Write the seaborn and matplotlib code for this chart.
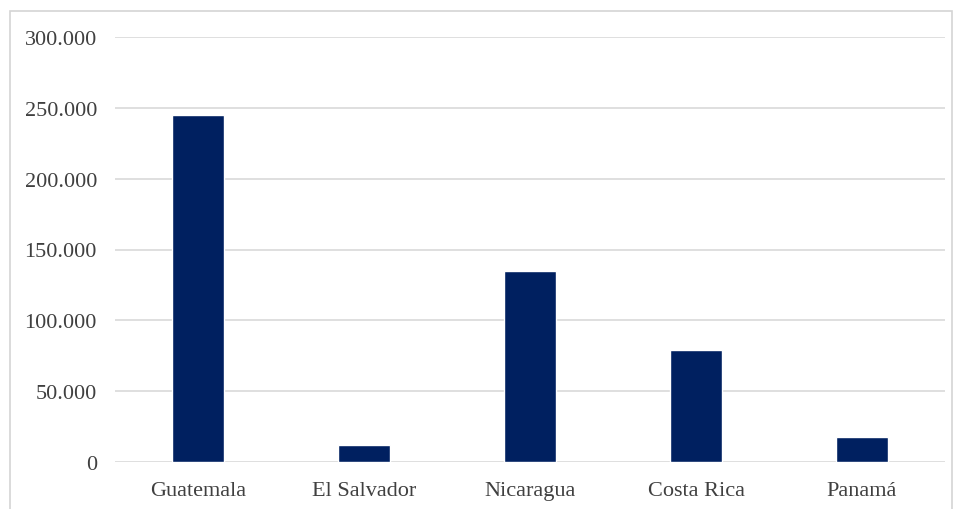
import matplotlib
matplotlib.use("Agg")
import matplotlib.pyplot as plt
import seaborn as sns
import pandas as pd
from matplotlib.ticker import FuncFormatter, MultipleLocator
from matplotlib.patches import Rectangle

countries = ["Guatemala", "El Salvador", "Nicaragua", "Costa Rica", "Panamá"]
values = [245000, 12000, 135000, 79000, 17500]

df = pd.DataFrame({"country": countries, "value": values})

sns.set_theme(style="white")
plt.rcParams["font.family"] = ["Liberation Serif", "DejaVu Serif"]

fig = plt.figure(figsize=(9.55, 5.1), dpi=100)
ax = fig.add_axes([115/955, 1-463/510, (945-115)/955, (463-38)/510])

sns.barplot(data=df, x="country", y="value", color="#002060", width=0.31,
            saturation=1, ax=ax, zorder=3)

ax.set_ylim(0, 300000)
ax.yaxis.set_major_locator(MultipleLocator(50000))
ax.yaxis.set_major_formatter(FuncFormatter(lambda v, p: f"{v:,.0f}".replace(",", ".")))
ax.grid(axis="y", color="#d9d9d9", linewidth=1.2, zorder=0)
ax.set_axisbelow(True)
for s in ax.spines.values():
    s.set_visible(False)
ax.set_xlabel("")
ax.set_ylabel("")
ax.tick_params(axis="y", length=0, pad=13, labelsize=16, labelcolor="#404040")
ax.tick_params(axis="x", length=0, pad=14, labelsize=16, labelcolor="#404040")
ax.set_xlim(-0.5, 4.5)

fig.patches.append(Rectangle((10/955, -0.05), (952-10)/955, 1.05 - 12/510,
                             transform=fig.transFigure, fill=False,
                             edgecolor="#d4d4d4", linewidth=1.2))

fig.savefig("out.png", dpi=100)
